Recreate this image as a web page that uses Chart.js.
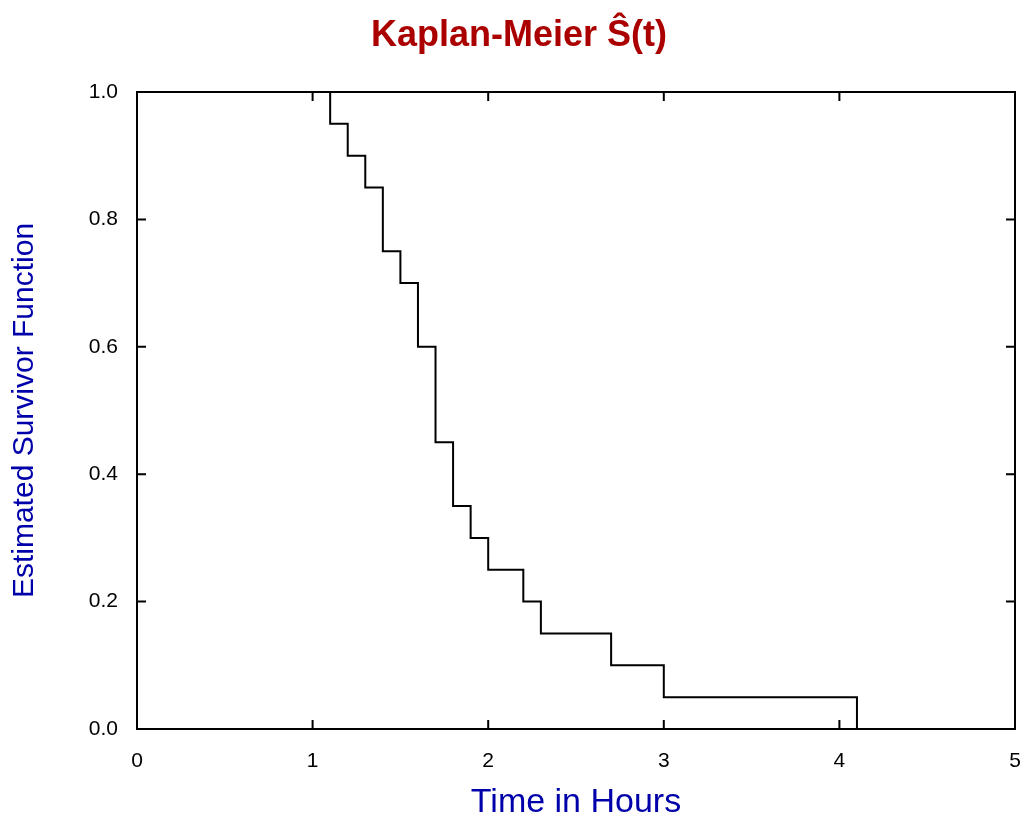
<!DOCTYPE html>
<html>
<head>
<meta charset="utf-8">
<script src="https://cdn.jsdelivr.net/npm/chart.js@4/dist/chart.umd.min.js"></script>
<style>
  html, body { margin: 0; padding: 0; background: #ffffff; }
  #wrap { width: 1026px; height: 823px; }
</style>
</head>
<body>
<div id="wrap"><canvas id="c" width="1026" height="823"></canvas></div>
<script>
// Event times (hours) and Kaplan-Meier survivor estimates after each time
const times    = [0, 1.1, 1.2, 1.3, 1.4, 1.5, 1.6, 1.7, 1.8, 1.9, 2.0, 2.2, 2.3, 2.7, 3.0, 4.1];
const survival = [1.0, 0.95, 0.90, 0.85, 0.75, 0.70, 0.60, 0.45, 0.35, 0.30, 0.25, 0.20, 0.15, 0.10, 0.05, 0.0];
const xTicks = [0, 1, 2, 3, 4, 5];
const yTicks = [0.0, 0.2, 0.4, 0.6, 0.8, 1.0];

const chartTitle = 'Kaplan-Meier \u015C(t)';
const xTitle = 'Time in Hours';
const yTitle = 'Estimated Survivor Function';

const points = times.map((t, i) => ({ x: t, y: survival[i] }));

const frame = {
  id: 'frame',
  afterDatasetsDraw(chart) {
    const { ctx, chartArea: a, scales } = chart;
    const len = 9;
    ctx.save();
    ctx.strokeStyle = '#000';
    ctx.lineWidth = 2;
    ctx.strokeRect(a.left, a.top, a.right - a.left, a.bottom - a.top);
    ctx.beginPath();
    xTicks.slice(1, -1).forEach(v => {
      const px = scales.x.getPixelForValue(v);
      ctx.moveTo(px, a.bottom); ctx.lineTo(px, a.bottom - len);
      ctx.moveTo(px, a.top); ctx.lineTo(px, a.top + len);
    });
    yTicks.slice(1, -1).forEach(v => {
      const py = scales.y.getPixelForValue(v);
      ctx.moveTo(a.left, py); ctx.lineTo(a.left + len, py);
      ctx.moveTo(a.right, py); ctx.lineTo(a.right - len, py);
    });
    ctx.stroke();
    // chart title
    ctx.fillStyle = '#aa0000';
    ctx.font = 'bold 36px "Liberation Sans", Arial, sans-serif';
    ctx.textAlign = 'center';
    ctx.textBaseline = 'middle';
    ctx.fillText(chartTitle, 519, 35.6);
    ctx.restore();
  }
};

new Chart(document.getElementById('c'), {
  type: 'line',
  data: {
    datasets: [{
      data: points,
      stepped: 'before',
      borderColor: '#000000',
      borderWidth: 2,
      pointRadius: 0,
      fill: false
    }]
  },
  options: {
    responsive: false,
    animation: false,
    layout: { padding: { left: 0, right: 11, top: 92, bottom: 0 } },
    plugins: {
      legend: { display: false },
      tooltip: { enabled: false },
      title: { display: false }
    },
    scales: {
      x: {
        type: 'linear',
        min: 0, max: 5,
        afterBuildTicks(s) { s.ticks = xTicks.map(v => ({ value: v })); },
        afterFit(s) { s.height = 94; s.paddingLeft = 0; s.paddingRight = 0; },
        grid: { display: false, drawTicks: false },
        border: { display: false },
        ticks: {
          color: '#000',
          padding: 20,
          maxRotation: 0,
          font: { family: 'Liberation Sans, Arial, sans-serif', size: 21 },
          callback: v => String(v)
        },
        title: {
          display: true,
          text: xTitle,
          color: '#0000aa',
          font: { family: 'Liberation Sans, Arial, sans-serif', size: 34 },
          padding: { top: 0, bottom: 0 }
        }
      },
      y: {
        type: 'linear',
        min: 0, max: 1,
        afterBuildTicks(s) { s.ticks = yTicks.map(v => ({ value: v })); },
        afterFit(s) { s.width = 137; s.paddingTop = 0; s.paddingBottom = 0; },
        grid: { display: false, drawTicks: false },
        border: { display: false },
        ticks: {
          color: '#000',
          padding: 19,
          font: { family: 'Liberation Sans, Arial, sans-serif', size: 21 },
          callback: v => Number(v).toFixed(1)
        },
        title: {
          display: true,
          text: yTitle,
          color: '#0000aa',
          font: { family: 'Liberation Sans, Arial, sans-serif', size: 30 },
          padding: { top: 7, bottom: 0 }
        }
      }
    }
  },
  plugins: [frame]
});
</script>
</body>
</html>
